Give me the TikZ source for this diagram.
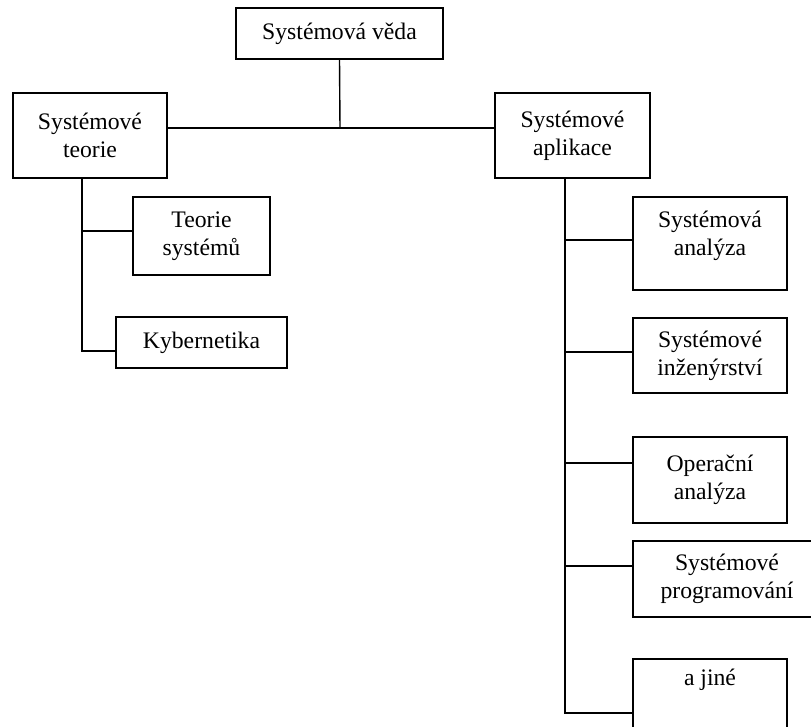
\documentclass[tikz,border=0pt]{standalone}
\usepackage{fontspec}
\setmainfont{Liberation Serif}
\begin{document}
\begin{tikzpicture}[x=1pt,y=-1pt,
  box/.style={draw, line width=1.4pt, inner sep=0pt, align=center, font=\fontsize{23.7}{28}\selectfont},
  txt/.style={inner sep=0pt, align=center, font=\fontsize{23.7}{28}\selectfont},
  conn/.style={line width=1.4pt}]
\useasboundingbox (0,0) rectangle (811,727);
\clip (0,0) rectangle (811,727);
% boxes
\node[box, minimum width=207pt, minimum height=51pt] (veda) at (339.5,33.5) {Systémová věda};
\node[box, minimum width=154pt, minimum height=85pt] (teorie) at (90,135.5) {Systémové\\teorie};
\node[box, minimum width=155pt, minimum height=85pt] (aplikace) at (572.5,135.5) {Systémové\\aplikace};
\node[box, minimum width=137pt, minimum height=78pt] (tsys) at (201.5,236) {Teorie\\systémů};
\node[box, minimum width=171pt, minimum height=51pt] (kyb) at (201.5,342.5) {Kybernetika};
\node[box, minimum width=154pt, minimum height=93pt] (sa) at (710,243.5) {};
\node[txt] (sat) at (710,236) {Systémová\\analýza};
\node[box, minimum width=154pt, minimum height=75pt] (si) at (710,355.5) {Systémové\\inženýrství};
\node[box, minimum width=154pt, minimum height=86pt] (oa) at (710,480) {Operační\\analýza};
\node[box, minimum width=188pt, minimum height=76pt] (sp) at (727,579) {Systémové\\programování};
\node[box, minimum width=154pt, minimum height=86pt] (aj) at (710,702) {};
\node[txt] (ajt) at (710,680) {a jiné};
% junction coordinates
\coordinate (jt) at (340,128);
\coordinate (lv) at (82,351);
\coordinate (lt) at (82,231);
\coordinate (rv) at (565,713);
\coordinate (r1) at (565,240);
\coordinate (r2) at (565,352);
\coordinate (r3) at (565,463);
\coordinate (r4) at (565,566);
% connectors
\draw[conn] (veda.south) -- (jt);
\draw[conn] (teorie.east |- jt) -- (aplikace.west |- jt);
\draw[conn] (lv |- teorie.south) -- (lv) -- (kyb.west |- lv);
\draw[conn] (lt) -- (tsys.west |- lt);
\draw[conn] (rv |- aplikace.south) -- (rv) -- (aj.west |- rv);
\draw[conn] (r1) -- (sa.west |- r1);
\draw[conn] (r2) -- (si.west |- r2);
\draw[conn] (r3) -- (oa.west |- r3);
\draw[conn] (r4) -- (sp.west |- r4);
\end{tikzpicture}
\end{document}
